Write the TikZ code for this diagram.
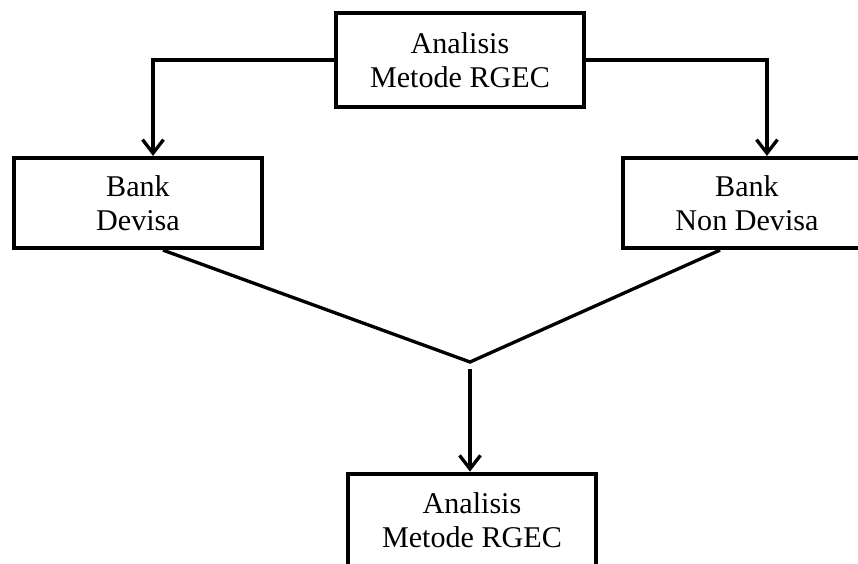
\documentclass[tikz,border=0pt]{standalone}
\usepackage{fontspec}
\setmainfont{Liberation Serif}
\usetikzlibrary{arrows.meta}
\tikzset{
  box/.style={draw,line width=1.75pt,align=center,inner sep=0pt,
    minimum width=3.54cm,minimum height=1.33cm,font=\fontsize{12.2}{13.8}\selectfont},
  link/.style={line width=1.35pt},
}
\begin{document}
\begin{tikzpicture}[>={Straight Barb[length=5.5pt,width=8.5pt]}]
  \useasboundingbox (0,0) rectangle (12.218,-8.031);
  % boxes
  \node[box] (rgec) at (6.550,-0.854) {Analisis\\Metode RGEC};
  \node[box,minimum height=1.28cm] (devisa) at (1.965,-2.891) {Bank\\Devisa};
  \node[box,minimum height=1.28cm] (nondevisa) at (10.637,-2.891) {Bank\\Non Devisa};
  \node[box] (hasil) at (6.721,-7.412) {Analisis\\Metode RGEC};
  % points
  \coordinate (L) at (2.179,0);
  \coordinate (R) at (10.922,0);
  \coordinate (DL) at (2.321,0);
  \coordinate (DR) at (10.253,0);
  \coordinate (V) at (6.693,-5.155);
  \coordinate (W) at (6.693,-5.255);
  % connectors
  \draw[link,->] (rgec.west) -| (L |- devisa.north);
  \draw[link,->] (rgec.east) -| (R |- nondevisa.north);
  \draw[link] (DL |- devisa.south) -- (V) -- (DR |- nondevisa.south);
  \draw[link,->] (W) -- (W |- hasil.north);
\end{tikzpicture}
\end{document}
